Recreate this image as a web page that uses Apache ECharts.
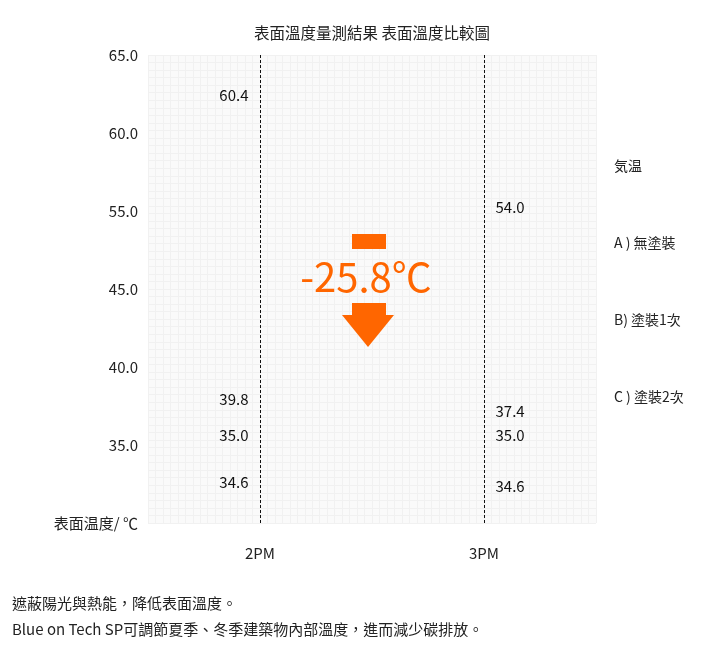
<!DOCTYPE html>
<html>
<head>
<meta charset="utf-8">
<script src="https://cdn.jsdelivr.net/npm/echarts@6/dist/echarts.min.js"></script>
<style>
  html, body { margin: 0; padding: 0; background: #fff; }
  #main { width: 713px; height: 654px; }
</style>
</head>
<body>
<div id="main"></div>
<script>
var times = ['2PM', '3PM']
var seriesNames = ['気温', 'A ) 無塗裝', 'B) 塗裝1次', 'C ) 塗裝2次']
var airTemp = [35.0, 35.0]
var noCoat = [60.4, 54.0]
var coatOnce = [39.8, 37.4]
var coatTwice = [34.6, 34.6]
// y 軸刻度不是等距的數值 (55 -> 45 被壓縮)
var yTickValues = [30, 35, 40, 45, 55, 60, 65]
var yTickLabels = ['表面温度/ ℃', '35.0', '40.0', '45.0', '55.0', '60.0', '65.0']

var font = "'Noto Sans CJK TC', 'Noto Sans', sans-serif"
var orange = '#ff6600'

// 數值 -> 刻度序號 (分段線性)
function toTick(v) {
  for (var i = 0; i < yTickValues.length - 1; i++) {
    if (v <= yTickValues[i + 1]) {
      return i + (v - yTickValues[i]) / (yTickValues[i + 1] - yTickValues[i])
    }
  }
  return yTickValues.length - 1
}

function makeSeries(name, values, shifts) {
  var data = []
  for (var i = 0; i < values.length; i++) {
    data.push({
      value: [times[i], toTick(values[i])],
      raw: values[i],
      label: {
        position: i === 0 ? 'left' : 'right',
        offset: [0, shifts[i]]
      }
    })
  }
  return {
    name: name,
    type: 'scatter',
    symbolSize: 1,
    itemStyle: { color: 'rgba(0,0,0,0)' },
    label: {
      show: true,
      distance: 11,
      color: '#111',
      opacity: 1,
      fontSize: 15,
      fontFamily: font,
      formatter: function(p) {
        return p.data.raw.toFixed(1)
      }
    },
    data: data
  }
}

var series = [
  makeSeries(seriesNames[0], airTemp, [-10, -10]),
  makeSeries(seriesNames[1], noCoat, [-31, -12]),
  makeSeries(seriesNames[2], coatOnce, [29, 4]),
  makeSeries(seriesNames[3], coatTwice, [31, 35])
]
// 2PM / 3PM 虛線
series[0].markLine = {
  silent: true,
  symbol: 'none',
  label: { show: false },
  lineStyle: { type: [3, 2], color: '#111', width: 1 },
  data: [{ xAxis: times[0] }, { xAxis: times[1] }]
}

var diff = (noCoat[0] - coatTwice[0]).toFixed(1)

var chart = echarts.init(document.getElementById('main'))
var option = {
  backgroundColor: '#fff',
  animation: false,
  title: {
    text: '表面溫度量測結果 表面溫度比較圖',
    left: 249,
    top: 20,
    textStyle: { fontSize: 15.5, fontWeight: 'normal', color: '#222', fontFamily: font }
  },
  legend: {
    orient: 'vertical',
    left: 604,
    top: 153,
    itemWidth: 0,
    itemHeight: 16,
    itemGap: 61,
    icon: 'rect',
    itemStyle: { opacity: 0 },
    textStyle: { fontSize: 14, color: '#222', fontFamily: font, lineHeight: 16 },
    data: seriesNames
  },
  grid: {
    left: 148,
    right: 117,
    top: 55,
    bottom: 131,
    show: true,
    backgroundColor: '#fafafa',
    borderWidth: 0
  },
  xAxis: [
    {
      type: 'category',
      data: times,
      axisLine: { show: false },
      axisTick: { show: false },
      axisLabel: { margin: 23, fontSize: 15, color: '#222', fontFamily: font }
    },
    {
      // 背景細格線
      type: 'value',
      min: 0,
      max: 60,
      interval: 1,
      position: 'top',
      axisLine: { show: false },
      axisTick: { show: false },
      axisLabel: { show: false },
      splitLine: { show: true, lineStyle: { color: '#f1f1f1', width: 1 } }
    }
  ],
  yAxis: [
    {
      type: 'value',
      min: 0,
      max: 6,
      interval: 1,
      axisLine: { show: false },
      axisTick: { show: false },
      splitLine: { show: false },
      axisLabel: {
        margin: 10,
        fontSize: 15,
        color: '#222',
        fontFamily: font,
        formatter: function(val) {
          return yTickLabels[Math.round(val)]
        }
      }
    },
    {
      type: 'value',
      min: 0,
      max: 62,
      interval: 1,
      position: 'right',
      axisLine: { show: false },
      axisTick: { show: false },
      axisLabel: { show: false },
      splitLine: { show: true, lineStyle: { color: '#f1f1f1', width: 1 } }
    }
  ],
  graphic: [
    { type: 'rect', shape: { x: 352, y: 234, width: 34, height: 15 }, style: { fill: orange }, z: 10 },
    {
      type: 'text',
      x: 366,
      y: 277,
      z: 10,
      style: {
        text: '-' + diff + '℃',
        fill: orange,
        fontSize: 40,
        fontFamily: font,
        align: 'center',
        verticalAlign: 'middle'
      }
    },
    { type: 'rect', shape: { x: 352, y: 303, width: 34, height: 13 }, style: { fill: orange }, z: 10 },
    {
      type: 'polygon',
      shape: { points: [[342, 315], [394, 315], [368, 347]] },
      style: { fill: orange },
      z: 10
    },
    {
      type: 'text',
      left: 12,
      top: 596,
      style: { text: '遮蔽陽光與熱能，降低表面溫度。', fill: '#222', fontSize: 15, fontFamily: font }
    },
    {
      type: 'text',
      left: 12,
      top: 622,
      style: {
        text: 'Blue on Tech SP可調節夏季、冬季建築物內部溫度，進而減少碳排放。',
        fill: '#222',
        fontSize: 15,
        fontFamily: font
      }
    }
  ],
  series: series
}
chart.setOption(option)
</script>
</body>
</html>
